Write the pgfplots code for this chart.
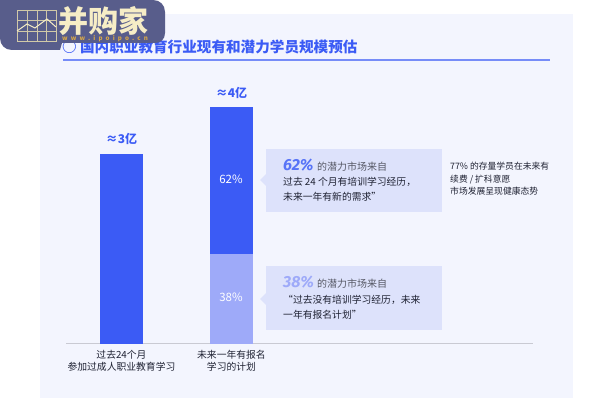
\documentclass[border=0pt]{standalone}
\usepackage{fontspec}
\setmainfont{Noto Sans CJK SC}
\newfontfamily\numf[ItalicFont={Fira Sans Italic}]{Fira Sans}
\usepackage{pgfplots}
\pgfplotsset{compat=1.18}
\definecolor{panel}{HTML}{F3F5FE}
\definecolor{bluea}{HTML}{3B5BF5}
\definecolor{blueb}{HTML}{9EAAF9}
\definecolor{callout}{HTML}{DDE2FB}
\definecolor{axisgray}{HTML}{C9CAD3}
\definecolor{ink}{HTML}{1F2233}
\definecolor{logo}{HTML}{585D8B}
\definecolor{cream}{HTML}{F6EDC6}
\definecolor{gold}{HTML}{D9A848}
\begin{document}
\begin{tikzpicture}[x=1pt,y=-1pt]
\clip (0,0) rectangle (613,419);
\fill[white] (0,0) rectangle (613,419);
\fill[panel] (40,14) rectangle (573,398);
% title
\node[anchor=west,text=bluea,font=\fontsize{14.6}{15}\selectfont\bfseries,inner sep=0] at (62,47) {○ 国内职业教育行业现有和潜力学员规模预估};
\draw[bluea!70,line width=1.1pt] (63,60) -- (550,60);
% callouts
\fill[callout] (266,149) rectangle (442,212);
\fill[callout] (266,174) -- (260,180) -- (266,186) -- cycle;
\fill[callout] (266,266) rectangle (442,330);
\fill[callout] (266,293) -- (260,299) -- (266,305) -- cycle;
% chart
\begin{axis}[
  at={(66pt,-343.5pt)},anchor=south west,
  scale only axis,width=467pt,height=236pt,
  xmin=-0.5045,xmax=3.741,ymin=0,ymax=4,
  axis y line=none,axis x line=bottom,
  x axis line style={-,draw=axisgray,line width=1pt},
  ybar stacked,bar width=43pt,
  xtick={0,1},xticklabels={{过去24个月\\参加过成人职业教育学习},{未来一年有报名\\学习的计划}},
  tick style={draw=none},
  xticklabel style={align=center,text=ink,font=\fontsize{9.8}{12.5}\selectfont,yshift=-1pt},
  clip=false,
]
\addplot[fill=bluea,draw=none] coordinates {(0,3.22) (1,0)};
\addplot[fill=blueb,draw=none] coordinates {(0,0) (1,1.51)};
\addplot[fill=bluea,draw=none] coordinates {(0,0) (1,2.49)};
\node[text=bluea,font=\fontsize{12}{13}\selectfont\bfseries] at (axis cs:0,3.46) {≈3亿};
\node[text=bluea,font=\fontsize{12}{13}\selectfont\bfseries] at (axis cs:1,4.25) {≈4亿};
\end{axis}
\node[text=white,font=\fontsize{11.5}{12}\selectfont] at (231,179) {62\%};
\node[text=white,font=\fontsize{11.5}{12}\selectfont] at (231,297) {38\%};
% callout text
\node[anchor=base west,inner sep=0,text=bluea!85] at (283,171) {\numf\itshape\bfseries\fontsize{16}{18}\selectfont 62\%};
\node[anchor=base west,inner sep=0,text=ink!75,font=\fontsize{10}{11}\selectfont] at (317,171) {的潜力市场来自};
\node[anchor=base west,inner sep=0,text=ink,font=\fontsize{9.8}{11}\selectfont] at (283,186) {过去 24 个月有培训学习经历，};
\node[anchor=base west,inner sep=0,text=ink,font=\fontsize{9.8}{11}\selectfont] at (283,201) {未来一年有新的需求"};
\node[anchor=base west,inner sep=0,text=blueb] at (283,288) {\numf\itshape\bfseries\fontsize{16}{18}\selectfont 38\%};
\node[anchor=base west,inner sep=0,text=ink!75,font=\fontsize{10}{11}\selectfont] at (317,288) {的潜力市场来自};
\node[anchor=base west,inner sep=0,text=ink,font=\fontsize{9.8}{11}\selectfont] at (283,304) {“过去没有培训学习经历，未来};
\node[anchor=base west,inner sep=0,text=ink,font=\fontsize{9.8}{11}\selectfont] at (283,319) {一年有报名计划”};
% side note
\node[anchor=base west,inner sep=0,text=ink,font=\fontsize{8.8}{10}\selectfont] at (450,170) {77\% 的存量学员在未来有};
\node[anchor=base west,inner sep=0,text=ink,font=\fontsize{8.8}{10}\selectfont] at (450,183) {续费 / 扩科意愿};
\node[anchor=base west,inner sep=0,text=ink,font=\fontsize{8.8}{10}\selectfont] at (450,195) {市场发展呈现健康态势};
% watermark logo
\fill[logo] (0,0) -- (153,0) .. controls (160,0) and (165,5) .. (165,12) -- (165,33) .. controls (165,39) and (161,43) .. (155,43) -- (62,43) -- (60,50) -- (12,50) .. controls (5,50) and (0,45) .. (0,38) -- cycle;
\draw[cream!85!black,line width=0.8pt] (17,10) rectangle (56,41);
\foreach \gx in {27,37,46} \draw[cream!85!black,line width=0.7pt] (\gx,10) -- (\gx,41);
\foreach \gy in {20,31} \draw[cream!85!black,line width=0.7pt] (17,\gy) -- (56,\gy);
\draw[cream,line width=1pt] (17,31) -- (27,24) -- (35,28) -- (47,19) -- (56,27);
\node[anchor=west,inner sep=0,text=cream,font=\fontsize{30}{31}\selectfont\bfseries] at (58,21) {并购家};
\node[anchor=west,inner sep=0,text=gold,font=\fontsize{6.2}{7}\selectfont\bfseries] at (62,38.5) {w\,\,\,w\,\,\,w\,\,\,.\,\,\,i\,\,\,p\,\,\,o\,\,\,i\,\,\,p\,\,\,o\,\,\,.\,\,\,c\,\,\,n};
\end{tikzpicture}
\end{document}
